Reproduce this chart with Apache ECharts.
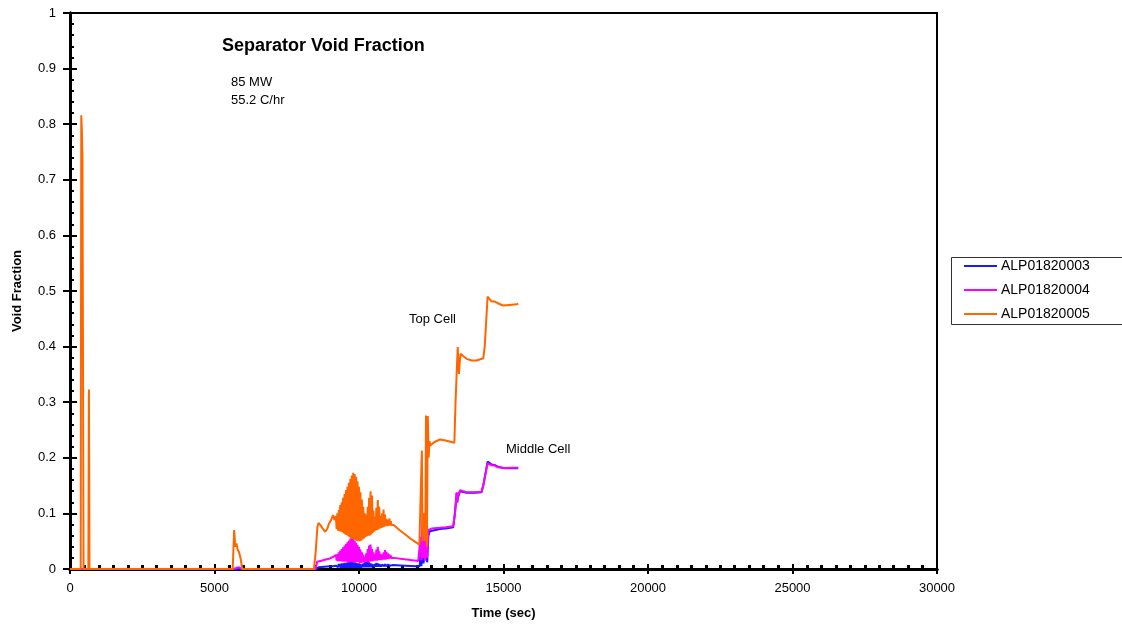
<!DOCTYPE html>
<html>
<head>
<meta charset="utf-8">
<script src="https://cdn.jsdelivr.net/npm/echarts@6/dist/echarts.min.js"></script>
<style>
html,body{margin:0;padding:0;background:#fff;}
#chart{width:1122px;height:626px;}
</style>
</head>
<body>
<div id="chart"></div>
<script>
// ---- data (time in sec, void fraction) ----
const seriesNames = ['ALP01820003', 'ALP01820004', 'ALP01820005'];
const xTicks = [0, 5000, 10000, 15000, 20000, 25000, 30000];
const yTicks = [0, 0.1, 0.2, 0.3, 0.4, 0.5, 0.6, 0.7, 0.8, 0.9, 1];

// shared time stamps of the oscillating stretch (sec)
const bandT = [9200, 9225, 9250, 9275, 9300, 9325, 9350, 9375, 9400, 9425, 9450, 9475,
  9500, 9525, 9550, 9575, 9600, 9625, 9650, 9675, 9700, 9725, 9750, 9775, 9800, 9825,
  9850, 9875, 9900, 9925, 9950, 9975, 10000, 10025, 10050, 10075, 10100, 10125, 10150,
  10175, 10200, 10225, 10250, 10275, 10300, 10325, 10350, 10375, 10400, 10425, 10450,
  10475, 10500, 10525, 10550, 10575, 10600, 10625, 10650, 10675, 10700, 10725, 10750,
  10775, 10800, 10825, 10850, 10875, 10900, 10925, 10950, 10975, 11000, 11025, 11050,
  11075, 11100, 11125, 11150];

// ALP01820003 (blue)
const blueStartT = [0, 8500, 8600, 8800, 9000, 9100];
const blueStartV = [0, 0, 0.003, 0.004, 0.005, 0.005];
const blueBandV = [0.006, 0.003, 0.008, 0.003, 0.009, 0.003, 0.009, 0.002, 0.010, 0.002,
  0.010, 0.002, 0.011, 0.002, 0.011, 0.002, 0.012, 0.002, 0.012, 0.002, 0.013, 0.002,
  0.013, 0.002, 0.012, 0.002, 0.012, 0.002, 0.011, 0.002, 0.010, 0.002, 0.010, 0.002,
  0.009, 0.002, 0.008, 0.003, 0.010, 0.003, 0.012, 0.003, 0.013, 0.003, 0.014, 0.003,
  0.012, 0.003, 0.010, 0.003, 0.009, 0.003, 0.008, 0.004, 0.009, 0.004, 0.011, 0.004,
  0.010, 0.004, 0.009, 0.004, 0.008, 0.004, 0.008, 0.005, 0.009, 0.005, 0.009, 0.005,
  0.008, 0.005, 0.008, 0.006, 0.007, 0.006, 0.007, 0.006, 0.007];
const blueEndT = [11200, 11600, 12000, 12100, 12130, 12160, 12200, 12230, 12290, 12330,
  12360, 12400, 12450, 12510, 12800, 13000, 13260, 13320, 13380, 13400, 13420, 13495,
  13725, 14000, 14240, 14300, 14450, 14480, 14590, 14700, 14765, 14800, 15050, 15300, 15510];
const blueEndV = [0.007, 0.006, 0.005, 0.005, 0.030, 0.005, 0.060, 0.010, 0.008, 0.040,
  0.012, 0.060, 0.068, 0.070, 0.072, 0.073, 0.075, 0.100, 0.137, 0.120, 0.128, 0.140,
  0.137, 0.137, 0.138, 0.150, 0.193, 0.191, 0.188, 0.187, 0.186, 0.184, 0.181, 0.181, 0.181];

// ALP01820004 (magenta)
const magentaStartT = [0, 5650, 5700, 5850, 5950, 8500, 8550, 8700, 8850, 9000, 9100];
const magentaStartV = [0, 0, 0.003, 0.003, 0, 0, 0.013, 0.015, 0.017, 0.019, 0.022];
const magentaBandV = [0.025, 0.015, 0.027, 0.014, 0.030, 0.014, 0.033, 0.014, 0.036, 0.013,
  0.039, 0.013, 0.042, 0.013, 0.045, 0.013, 0.048, 0.012, 0.051, 0.012, 0.055, 0.012,
  0.056, 0.012, 0.054, 0.012, 0.051, 0.012, 0.047, 0.012, 0.043, 0.012, 0.040, 0.011,
  0.035, 0.011, 0.030, 0.012, 0.026, 0.012, 0.022, 0.013, 0.028, 0.013, 0.036, 0.012,
  0.042, 0.013, 0.044, 0.014, 0.036, 0.014, 0.030, 0.015, 0.027, 0.015, 0.035, 0.015,
  0.040, 0.016, 0.032, 0.016, 0.027, 0.016, 0.026, 0.017, 0.030, 0.017, 0.034, 0.017,
  0.031, 0.018, 0.028, 0.018, 0.026, 0.019, 0.024, 0.020, 0.021];
const magentaEndT = [11200, 11500, 11800, 12050, 12100, 12130, 12160, 12200, 12230, 12260,
  12290, 12330, 12360, 12400, 12450, 12510, 12800, 13000, 13260, 13320, 13380, 13400,
  13420, 13495, 13725, 14000, 14240, 14300, 14450, 14480, 14590, 14700, 14765, 14800,
  15050, 15300, 15510];
const magentaEndV = [0.020, 0.018, 0.016, 0.0145, 0.015, 0.058, 0.016, 0.100, 0.020, 0.070,
  0.015, 0.065, 0.020, 0.070, 0.071, 0.0727, 0.074, 0.075, 0.077, 0.100, 0.138, 0.120,
  0.130, 0.1415, 0.138, 0.138, 0.139, 0.150, 0.190, 0.189, 0.1865, 0.186, 0.185, 0.183,
  0.1817, 0.182, 0.182];

// ALP01820005 (orange)
const orangeStartT = [0, 370, 390, 410, 430, 450, 470, 635, 655, 675, 5630, 5680, 5720, 5760,
  5800, 5850, 5900, 5960, 8440, 8500, 8560, 8600, 8680, 8750, 8830, 8900, 8950, 9000,
  9050, 9100, 9150, 9200, 9225];
const orangeStartV = [0, 0, 0.816, 0.79, 0.741, 0.741, 0, 0, 0.323, 0, 0, 0.070, 0.040, 0.046,
  0.035, 0.030, 0.020, 0, 0, 0.030, 0.075, 0.083, 0.078, 0.072, 0.067, 0.072, 0.080, 0.078,
  0.090, 0.097, 0.088, 0.095, 0.072];
// orange band starts at bandT[2] (9250)
const orangeBandV = [0.100, 0.069, 0.106, 0.068, 0.115, 0.067, 0.120, 0.066, 0.128, 0.064,
  0.135, 0.062, 0.142, 0.061, 0.148, 0.059, 0.155, 0.057, 0.162, 0.055, 0.168, 0.054,
  0.173, 0.053, 0.171, 0.052, 0.166, 0.051, 0.158, 0.050, 0.148, 0.050, 0.138, 0.051,
  0.125, 0.053, 0.112, 0.055, 0.100, 0.057, 0.098, 0.059, 0.112, 0.060, 0.128, 0.060,
  0.140, 0.062, 0.132, 0.065, 0.105, 0.067, 0.094, 0.069, 0.110, 0.070, 0.124, 0.071,
  0.112, 0.073, 0.095, 0.074, 0.100, 0.075, 0.107, 0.076, 0.098, 0.077, 0.090, 0.077,
  0.088, 0.078, 0.091, 0.078, 0.086, 0.079, 0.082];
const orangeEndT = [11200, 11400, 11600, 11800, 12000, 12090, 12150, 12175, 12200, 12230, 12260,
  12290, 12320, 12350, 12380, 12410, 12440, 12470, 12500, 12600, 12800, 13000, 13300,
  13340, 13415, 13460, 13490, 13520, 13600, 13725, 13900, 14070, 14300, 14350, 14450,
  14500, 14590, 14700, 14760, 14800, 14990, 15200, 15450, 15510];
const orangeEndV = [0.079, 0.070, 0.062, 0.054, 0.047, 0.044, 0.046, 0.213, 0.050, 0.100, 0.080,
  0.050, 0.276, 0.040, 0.275, 0.200, 0.230, 0.222, 0.225, 0.228, 0.233, 0.231, 0.227,
  0.300, 0.399, 0.351, 0.375, 0.387, 0.383, 0.378, 0.375, 0.375, 0.379, 0.400, 0.490,
  0.487, 0.481, 0.481, 0.484, 0.478, 0.474, 0.475, 0.476, 0.477];

const colors = ['#1a1aff', '#ff00ff', '#ff6600'];

function pairs(t, v) { return t.map((x, i) => [x, v[i]]); }
const blueData = pairs(blueStartT, blueStartV)
  .concat(pairs(bandT, blueBandV), pairs(blueEndT, blueEndV));
const magentaData = pairs(magentaStartT, magentaStartV)
  .concat(pairs(bandT, magentaBandV), pairs(magentaEndT, magentaEndV));
const orangeData = pairs(orangeStartT, orangeStartV)
  .concat(pairs(bandT.slice(2), orangeBandV), pairs(orangeEndT, orangeEndV));
const seriesData = [blueData, magentaData, orangeData];

const FONT = '"Liberation Sans", Arial, sans-serif';
const chart = echarts.init(document.getElementById('chart'), null, {renderer: 'canvas'});

const baseX = {
  type: 'value', min: 0, max: 30000, interval: 5000,
  splitLine: {show: false},
  axisLine: {show: true, lineStyle: {color: '#000', width: 3}}
};
const baseY = {
  type: 'value', min: 0, max: 1, interval: 0.1,
  splitLine: {show: false},
  axisLine: {show: true, lineStyle: {color: '#000', width: 3}}
};

chart.setOption({
  animation: false,
  backgroundColor: '#fff',
  title: {
    text: 'Separator Void Fraction',
    left: 222, top: 37, padding: 0,
    textStyle: {fontFamily: FONT, fontSize: 18, fontWeight: 'bold', color: '#000'}
  },
  legend: {
    orient: 'vertical',
    left: 963, top: 258,
    itemWidth: 33, itemHeight: 2, itemGap: 8,
    padding: 0,
    data: seriesNames,
    textStyle: {fontFamily: FONT, fontSize: 14, color: '#000', lineHeight: 16, padding: [0, 0, 0, -1]}
  },
  grid: {
    left: 70, right: 185, top: 13, bottom: 57,
    outerBoundsMode: 'none', containLabel: false,
    show: true, borderColor: '#000', borderWidth: 2, backgroundColor: '#fff'
  },
  xAxis: [
    Object.assign({}, baseX, {
      position: 'bottom',
      name: 'Time (sec)', nameLocation: 'middle', nameGap: 38,
      nameTextStyle: {fontFamily: FONT, fontSize: 13, fontWeight: 'bold', color: '#000'},
      axisTick: {show: true, inside: false, length: 5, lineStyle: {color: '#000', width: 2}},
      axisLabel: {show: true, margin: 13, fontFamily: FONT, fontSize: 13, color: '#000',
        formatter: v => String(v)}
    }),
    Object.assign({}, baseX, {
      position: 'bottom',
      axisTick: {show: true, inside: true, length: 5, lineStyle: {color: '#000', width: 2}},
      minorTick: {show: true, splitNumber: 10, length: 4, lineStyle: {color: '#000', width: 3}},
      axisLabel: {show: false}
    })
  ],
  yAxis: [
    Object.assign({}, baseY, {
      position: 'left',
      name: 'Void Fraction', nameLocation: 'middle', nameGap: 46, nameRotate: 90,
      nameTextStyle: {fontFamily: FONT, fontSize: 13, fontWeight: 'bold', color: '#000'},
      axisTick: {show: true, inside: false, length: 7, lineStyle: {color: '#000', width: 2}},
      axisLabel: {show: true, margin: 14, fontFamily: FONT, fontSize: 13, color: '#000',
        formatter: v => String(Math.round(v * 10) / 10)}
    }),
    Object.assign({}, baseY, {
      position: 'left',
      axisTick: {show: true, inside: true, length: 7, lineStyle: {color: '#000', width: 2}},
      minorTick: {show: true, splitNumber: 5, length: 4, lineStyle: {color: '#000', width: 2}},
      axisLabel: {show: false}
    })
  ],
  graphic: [
    {type: 'rect', left: 949, top: 255, shape: {width: 171, height: 67},
      style: {fill: 'none', stroke: '#333', lineWidth: 1}, z: 0},
    {type: 'text', left: 231, top: 76, style: {text: '85 MW', font: '13px ' + FONT, fill: '#000'}},
    {type: 'text', left: 231, top: 94, style: {text: '55.2 C/hr', font: '13px ' + FONT, fill: '#000'}},
    {type: 'text', left: 409, top: 313, style: {text: 'Top Cell', font: '13px ' + FONT, fill: '#000'}},
    {type: 'text', left: 506, top: 443, style: {text: 'Middle Cell', font: '13px ' + FONT, fill: '#000'}}
  ],
  series: seriesNames.map((n, i) => ({
    name: n, type: 'line', xAxisIndex: 0, yAxisIndex: 0,
    symbol: 'none', showSymbol: false,
    data: seriesData[i],
    lineStyle: {color: colors[i], width: 2},
    itemStyle: {color: colors[i]},
    z: 3 + i
  }))
});
</script>
</body>
</html>
